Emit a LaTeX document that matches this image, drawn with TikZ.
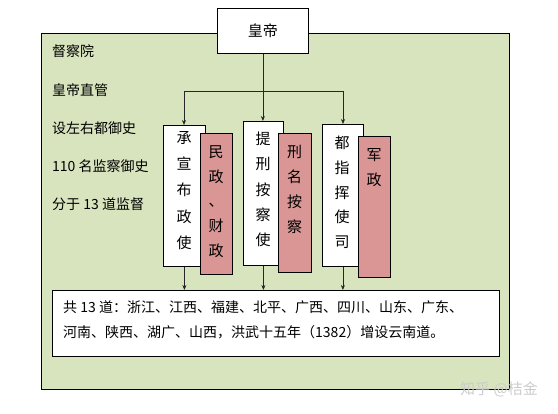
\documentclass[tikz,border=0pt]{standalone}
\usepackage{fontspec}
\setmainfont{Noto Sans CJK SC}
\usetikzlibrary{arrows.meta}
\definecolor{bggreen}{HTML}{D7E4BD}
\definecolor{boxred}{HTML}{D99694}
\begin{document}
\begin{tikzpicture}[x=1pt,y=-1pt,
  frame/.style={draw=black, line width=0.8pt, inner sep=0pt, anchor=north west},
  whitebox/.style={frame, fill=white},
  redbox/.style={frame, fill=boxred},
  vtext/.style={align=center, inner sep=0pt, font=\fontsize{15}{#1}\selectfont},
  lefttext/.style={anchor=west, inner sep=0pt, font=\fontsize{14}{14}\selectfont},
  arr/.style={draw=black!85, line width=0.6pt, -{Stealth[length=5pt,width=4pt]}},
  conn/.style={draw=black!85, line width=0.6pt}]
\useasboundingbox (0,0) rectangle (558,414);
% outer frame
\node[frame, fill=bggreen, minimum width=468pt, minimum height=356pt] (court) at (41,33) {};
% emperor
\node[whitebox, minimum width=91pt, minimum height=45pt] (emp) at (217,8) {};
\node[inner sep=0pt, font=\fontsize{15}{15}\selectfont] (empt) at (emp.center) {皇帝};
% left texts
\node[lefttext] (l1) at (52,51) {督察院};
\node[lefttext] (l2) at (52,90) {皇帝直管};
\node[lefttext] (l3) at (52,128) {设左右都御史};
\node[lefttext] (l4) at (52,166) {110 名监察御史};
\node[lefttext] (l5) at (52,204) {分于 13 道监督};
% boxes
\node[whitebox, minimum width=42pt, minimum height=141pt] (w1) at (163,125) {};
\node[redbox, minimum width=32pt, minimum height=141pt] (r1) at (200,133) {};
\node[whitebox, minimum width=40pt, minimum height=144pt] (w2) at (243,121) {};
\node[redbox, minimum width=33pt, minimum height=139pt] (r2) at (278,133) {};
\node[whitebox, minimum width=41pt, minimum height=142pt] (w3) at (322,124) {};
\node[redbox, minimum width=32pt, minimum height=141pt] (r3) at (358,136) {};
% box texts
\node[vtext=26.25] (t1) at (184,190.5) {承\\宣\\布\\政\\使};
\node[vtext=24.75] (s1) at (216,201.5) {民\\政\\、\\财\\政};
\node[vtext=25.25] (t2) at (263,189.5) {提\\刑\\按\\察\\使};
\node[vtext=25] (s2) at (294.5,189.5) {刑\\名\\按\\察};
\node[vtext=24.75] (t3) at (342,192.5) {都\\指\\挥\\使\\司};
\node[vtext=25] (s3) at (374,167.5) {军\\政};
% bottom box
\node[whitebox, minimum width=447pt, minimum height=66pt] (bot) at (52,290) {};
\node[anchor=west, align=left, inner sep=0pt, font=\fontsize{14}{25}\selectfont] (bott) at (63,319.5)
  {共 13 道：浙江、江西、福建、北平、广西、四川、山东、广东、\\河南、陕西、湖广、山西，洪武十五年（1382）增设云南道。};
% connectors
\coordinate (hl) at (184,91);
\coordinate (hr) at (343,91);
\draw[arr] (emp.south) -- (emp.south |- w2.north);
\draw[conn] (hl) -- (hr);
\draw[arr] (hl) -- (hl |- w1.north);
\draw[arr] (hr) -- (hr |- w3.north);
\draw[arr] (w1.south) -- (w1.south |- bot.north);
\draw[arr] (w2.south) -- (w2.south |- bot.north);
\draw[arr] (w3.south) -- (w3.south |- bot.north);
% watermark
\node[inner sep=0pt, text=gray!40, font=\fontsize{15}{15}\selectfont] (wm) at (499,389) {知乎 @桔金};
\end{tikzpicture}
\end{document}
